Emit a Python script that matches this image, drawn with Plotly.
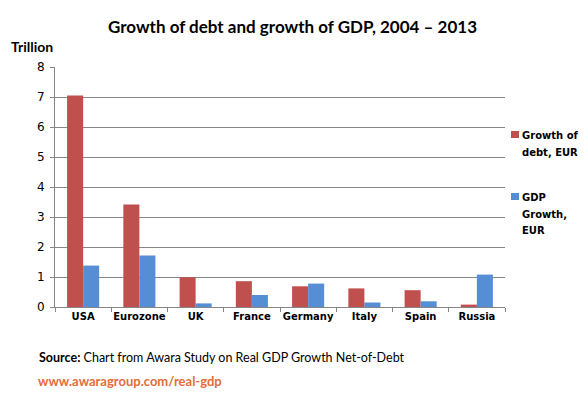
import plotly.graph_objects as go

countries = ["USA", "Eurozone", "UK", "France", "Germany", "Italy", "Spain", "Russia"]
debt_growth = [7.05, 3.42, 0.99, 0.86, 0.69, 0.62, 0.56, 0.08]
gdp_growth = [1.38, 1.72, 0.12, 0.40, 0.78, 0.15, 0.19, 1.08]
y_ticks = [0, 1, 2, 3, 4, 5, 6, 7, 8]
legend_lines = [["Growth of", "debt, EUR"], ["GDP", "Growth,", "EUR"]]

RED = "#C0504D"
BLUE = "#558ED5"
GRID = "#868686"

# plot area in page pixels, used to place the hand-made legend
PX_L, PX_R, PX_T, PX_B = 55, 505, 67, 307


def px_x(x):
    return (x - PX_L) / (PX_R - PX_L)


def px_y(y):
    return (PX_B - y) / (PX_B - PX_T)


fig = go.Figure()
fig.add_trace(go.Bar(x=countries, y=debt_growth, name="Growth of debt, EUR",
                     marker=dict(color=RED, line=dict(width=0)), showlegend=False))
fig.add_trace(go.Bar(x=countries, y=gdp_growth, name="GDP Growth, EUR",
                     marker=dict(color=BLUE, line=dict(width=0)), showlegend=False))

# legend drawn by hand: Excel puts a small square right next to wrapped text
legend_shapes = []
legend_notes = []
for lines, col, top in zip(legend_lines, [RED, BLUE], [131, 193]):
    legend_shapes.append(dict(type="rect", xref="paper", yref="paper",
                              x0=px_x(511), x1=px_x(519), y0=px_y(top + 7), y1=px_y(top),
                              fillcolor=col, line=dict(width=0)))
    for j, line in enumerate(lines):
        legend_notes.append(dict(text="<b>" + line + "</b>", xref="paper", yref="paper",
                                 x=px_x(520), y=px_y(top + 4.5 + j * 16.5),
                                 xanchor="left", yanchor="middle", showarrow=False,
                                 font=dict(family="DejaVu Sans", size=10, color="black")))

fig.update_layout(
    width=588, height=420,
    margin=dict(l=55, r=83, t=67, b=113, autoexpand=False),
    paper_bgcolor="white", plot_bgcolor="white",
    barmode="group", bargap=0.43, bargroupgap=0,
    title=dict(text="<b>Growth of debt and growth of GDP, 2004 – 2013</b>",
               xref="container", x=0.4975, xanchor="center", y=0.935, yanchor="middle",
               font=dict(family="Lato", size=17, color="black")),
    xaxis=dict(showline=True, linecolor=GRID, linewidth=1, ticks="outside",
               tickson="boundaries", ticklen=4, tickcolor=GRID, tickangle=0,
               automargin=False,
               tickfont=dict(family="DejaVu Sans", size=10, color="black", weight="bold"),
               showgrid=False),
    yaxis=dict(range=[0, 8], tickvals=y_ticks, showline=True, linecolor=GRID,
               linewidth=1, ticks="outside", ticklen=4, tickcolor=GRID,
               ticklabelstandoff=3,
               showgrid=True, gridcolor=GRID, gridwidth=1, zeroline=False,
               automargin=False,
               tickfont=dict(family="DejaVu Sans", size=12, color="black")),
    shapes=legend_shapes,
    annotations=legend_notes + [
        dict(text="<b>Trillion</b>", xref="paper", yref="paper", x=-0.102, y=1.04,
             xanchor="left", yanchor="bottom", showarrow=False,
             font=dict(family="Lato", size=14, color="black")),
        dict(text="<b>Source:</b> Chart from Awara Study on Real GDP Growth Net-of-Debt",
             xref="paper", yref="paper", x=-0.04, y=-0.21, xanchor="left",
             yanchor="middle", showarrow=False,
             font=dict(family="Lato", size=12.5, color="black")),
        dict(text="<b>www.awaragroup.com/real-gdp</b>",
             xref="paper", yref="paper", x=-0.042, y=-0.31, xanchor="left",
             yanchor="middle", showarrow=False,
             font=dict(family="Lato", size=13, color="#E46C3A")),
    ],
)

# drop the browser's default 8px body margin so the figure sits at the page corner
fig.write_html("out.html", config={"displayModeBar": False},
               post_script="document.body.style.margin='0';")
